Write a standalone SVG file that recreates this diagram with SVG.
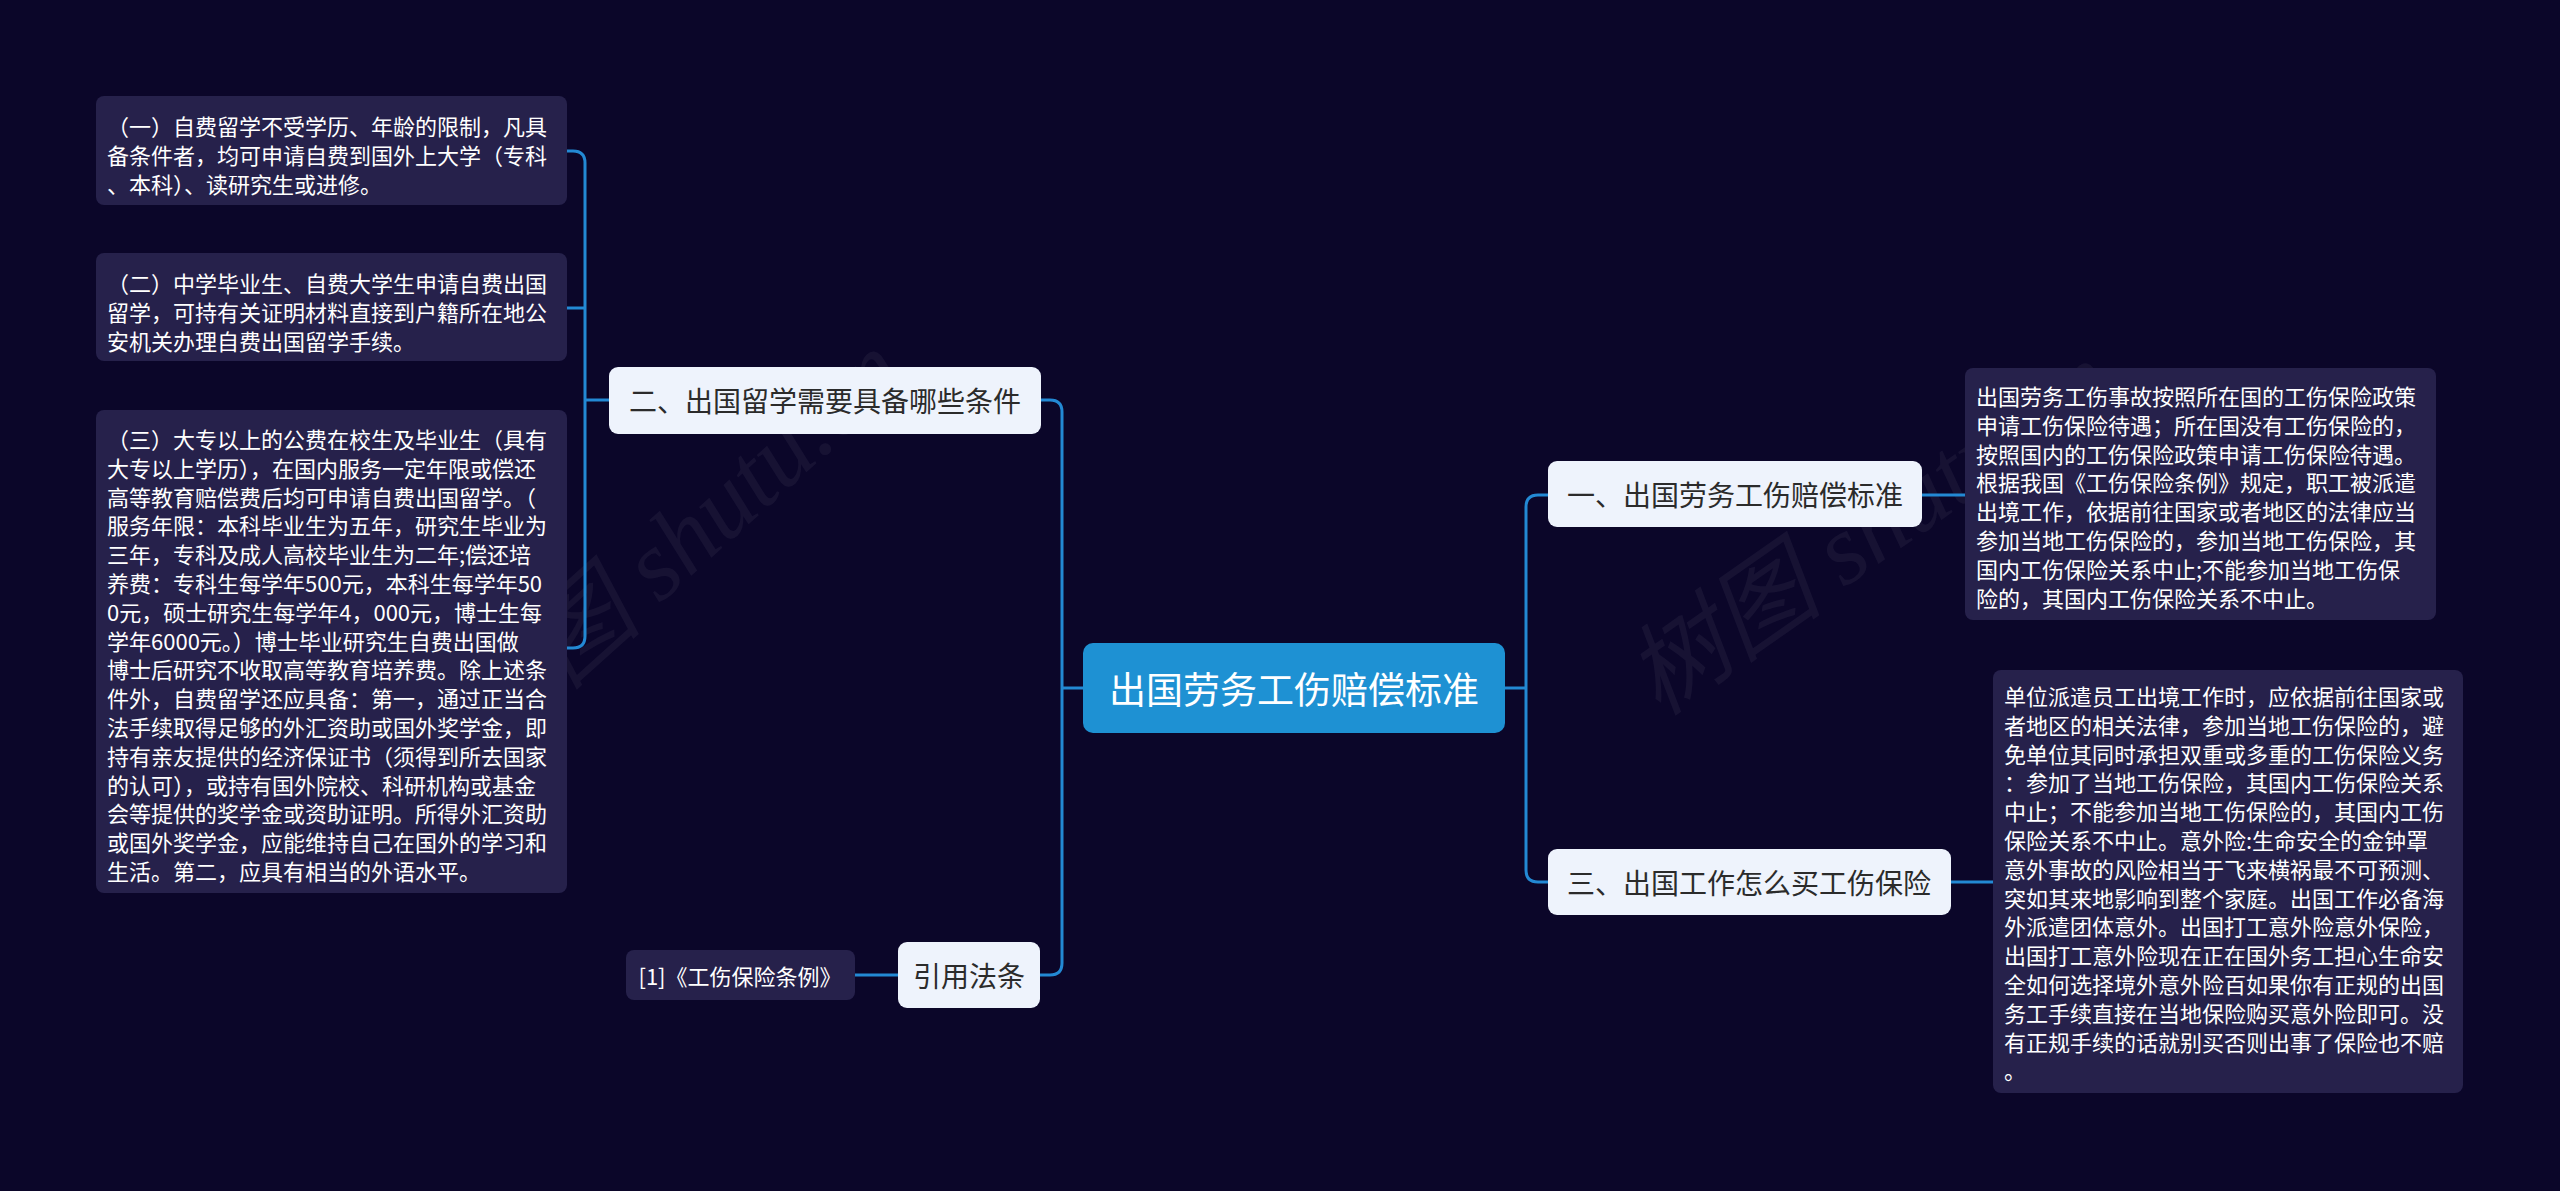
<svg xmlns="http://www.w3.org/2000/svg" width="2560" height="1191" viewBox="0 0 2560 1191">
<style>
.bg{fill:#0b0629}
.wm{font-family:"Liberation Serif","Noto Sans CJK SC",serif;font-style:italic;font-size:100px;fill:#ffffff;fill-opacity:0.05}
.conn{fill:none;stroke:#2389d4;stroke-width:3}
.root rect{fill:#1e91d3}
.root text{font-family:"Noto Sans CJK SC","Noto Sans",sans-serif;font-size:37px;fill:#ffffff}
.sub rect{fill:#eef3fc}
.sub text{font-family:"Noto Sans CJK SC","Noto Sans",sans-serif;font-size:28px;fill:#2b2b2b}
.leaf rect{fill:#26214b}
.leaf text{font-family:"Noto Sans CJK SC","Noto Sans",sans-serif;font-size:22px;fill:#ffffff}
text{dominant-baseline:central}
</style>
<rect class="bg" x="0" y="0" width="2560" height="1191"/>
<g id="watermarks">
<text class="wm" transform="translate(470,730) rotate(-42)">树图 shutu.cn</text>
<text class="wm" transform="translate(1640,690) rotate(-35)">树图 shutu.cn</text>
</g>
<g id="connectors">
<path class="conn" d="M1083,688 H1062"/>
<path class="conn" d="M1041,400 H1050 Q1062,400 1062,412 V963 Q1062,975 1050,975 H1040"/>
<path class="conn" d="M1505,688 H1526"/>
<path class="conn" d="M1548,495 H1538 Q1526,495 1526,507 V870 Q1526,882 1538,882 H1548"/>
<path class="conn" d="M609,400 H585"/>
<path class="conn" d="M567,151 H573 Q585,151 585,163 V636 Q585,648 573,648 H567"/>
<path class="conn" d="M567,308 H585"/>
<path class="conn" d="M898,975 H855"/>
<path class="conn" d="M1922,495 H1965"/>
<path class="conn" d="M1951,882 H1993"/>
</g>
<g id="root" class="root">
<rect x="1083" y="643" width="422" height="90" rx="10"/>
<text x="1294" y="688" text-anchor="middle">出国劳务工伤赔偿标准</text>
</g>
<g id="n-two" class="sub">
<rect x="609" y="367" width="432" height="67" rx="9"/>
<text x="825" y="400" text-anchor="middle">二、出国留学需要具备哪些条件</text>
</g>
<g id="n-law" class="sub">
<rect x="898" y="942" width="142" height="66" rx="9"/>
<text x="969" y="975" text-anchor="middle">引用法条</text>
</g>
<g id="n-one" class="sub">
<rect x="1548" y="461" width="374" height="66" rx="9"/>
<text x="1735" y="494" text-anchor="middle">一、出国劳务工伤赔偿标准</text>
</g>
<g id="n-three" class="sub">
<rect x="1548" y="849" width="403" height="66" rx="9"/>
<text x="1749" y="882" text-anchor="middle">三、出国工作怎么买工伤保险</text>
</g>
<g id="leaf-law" class="leaf">
<rect x="626" y="950" width="229" height="50" rx="8"/>
<text x="740" y="975" text-anchor="middle">[1]《工伤保险条例》</text>
</g>
<g id="leaf-l1" class="leaf">
<rect x="96" y="96" width="471" height="109" rx="8"/>
<text x="107" y="125">（一）自费留学不受学历、年龄的限制，凡具</text>
<text x="107" y="153.8">备条件者，均可申请自费到国外上大学（专科</text>
<text x="107" y="182.6">、本科）、读研究生或进修。</text>
</g>
<g id="leaf-l2" class="leaf">
<rect x="96" y="253" width="471" height="108" rx="8"/>
<text x="107" y="282">（二）中学毕业生、自费大学生申请自费出国</text>
<text x="107" y="310.8">留学，可持有关证明材料直接到户籍所在地公</text>
<text x="107" y="339.6">安机关办理自费出国留学手续。</text>
</g>
<g id="leaf-l3" class="leaf">
<rect x="96" y="410" width="471" height="483" rx="8"/>
<text x="107" y="438">（三）大专以上的公费在校生及毕业生（具有</text>
<text x="107" y="466.8">大专以上学历），在国内服务一定年限或偿还</text>
<text x="107" y="495.6">高等教育赔偿费后均可申请自费出国留学。（</text>
<text x="107" y="524.4">服务年限：本科毕业生为五年，研究生毕业为</text>
<text x="107" y="553.2">三年，专科及成人高校毕业生为二年;偿还培</text>
<text x="107" y="582">养费：专科生每学年500元，本科生每学年50</text>
<text x="107" y="610.8">0元，硕士研究生每学年4，000元，博士生每</text>
<text x="107" y="639.6">学年6000元。）博士毕业研究生自费出国做</text>
<text x="107" y="668.4">博士后研究不收取高等教育培养费。除上述条</text>
<text x="107" y="697.2">件外，自费留学还应具备：第一，通过正当合</text>
<text x="107" y="726">法手续取得足够的外汇资助或国外奖学金，即</text>
<text x="107" y="754.8">持有亲友提供的经济保证书（须得到所去国家</text>
<text x="107" y="783.6">的认可），或持有国外院校、科研机构或基金</text>
<text x="107" y="812.4">会等提供的奖学金或资助证明。所得外汇资助</text>
<text x="107" y="841.2">或国外奖学金，应能维持自己在国外的学习和</text>
<text x="107" y="870">生活。第二，应具有相当的外语水平。</text>
</g>
<g id="leaf-r1" class="leaf">
<rect x="1965" y="368" width="471" height="252" rx="8"/>
<text x="1976" y="395">出国劳务工伤事故按照所在国的工伤保险政策</text>
<text x="1976" y="423.8">申请工伤保险待遇；所在国没有工伤保险的，</text>
<text x="1976" y="452.6">按照国内的工伤保险政策申请工伤保险待遇。</text>
<text x="1976" y="481.4">根据我国《工伤保险条例》规定，职工被派遣</text>
<text x="1976" y="510.2">出境工作，依据前往国家或者地区的法律应当</text>
<text x="1976" y="539">参加当地工伤保险的，参加当地工伤保险，其</text>
<text x="1976" y="567.8">国内工伤保险关系中止;不能参加当地工伤保</text>
<text x="1976" y="596.6">险的，其国内工伤保险关系不中止。</text>
</g>
<g id="leaf-r2" class="leaf">
<rect x="1993" y="670" width="470" height="423" rx="8"/>
<text x="2004" y="695">单位派遣员工出境工作时，应依据前往国家或</text>
<text x="2004" y="723.8">者地区的相关法律，参加当地工伤保险的，避</text>
<text x="2004" y="752.6">免单位其同时承担双重或多重的工伤保险义务</text>
<text x="2004" y="781.4">：参加了当地工伤保险，其国内工伤保险关系</text>
<text x="2004" y="810.2">中止；不能参加当地工伤保险的，其国内工伤</text>
<text x="2004" y="839">保险关系不中止。意外险:生命安全的金钟罩</text>
<text x="2004" y="867.8">意外事故的风险相当于飞来横祸最不可预测、</text>
<text x="2004" y="896.6">突如其来地影响到整个家庭。出国工作必备海</text>
<text x="2004" y="925.4">外派遣团体意外。出国打工意外险意外保险，</text>
<text x="2004" y="954.2">出国打工意外险现在正在国外务工担心生命安</text>
<text x="2004" y="983">全如何选择境外意外险百如果你有正规的出国</text>
<text x="2004" y="1011.8">务工手续直接在当地保险购买意外险即可。没</text>
<text x="2004" y="1040.6">有正规手续的话就别买否则出事了保险也不赔</text>
<text x="2004" y="1069.4">。</text>
</g>
</svg>
